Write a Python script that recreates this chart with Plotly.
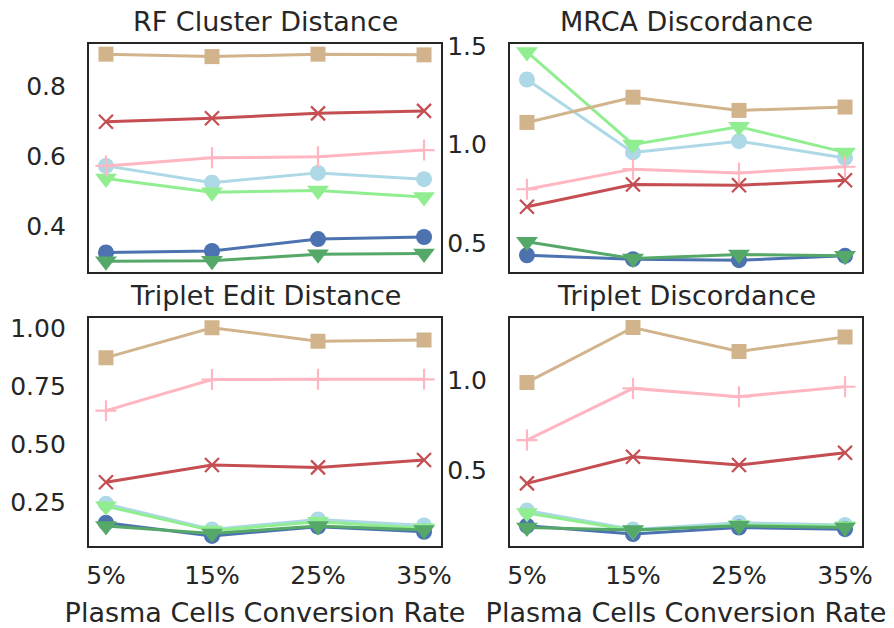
import plotly.graph_objects as go

rates = ["5%", "15%", "25%", "35%"]

series_names = ["light_blue", "blue", "light_green", "green", "red", "pink", "tan"]
series_colors = {
    "blue": "#4C72B0",
    "green": "#55A868",
    "red": "#C44E52",
    "tan": "#D2B48C",
    "pink": "#FFB6C1",
    "light_blue": "#ADD8E6",
    "light_green": "#90EE90",
}
series_symbols = {
    "blue": "circle",
    "green": "triangle-down",
    "red": "x-thin-open",
    "tan": "square",
    "pink": "cross-thin-open",
    "light_blue": "circle",
    "light_green": "triangle-down",
}
symbol_sizes = {
    "circle": 16,
    "triangle-down": 19,
    "square": 15,
    "x-thin-open": 14,
    "cross-thin-open": 15,
}

rf_cluster = {
    "tan": [0.891, 0.884, 0.891, 0.889],
    "red": [0.698, 0.708, 0.722, 0.729],
    "pink": [0.572, 0.595, 0.598, 0.617],
    "light_blue": [0.572, 0.524, 0.552, 0.534],
    "light_green": [0.536, 0.497, 0.502, 0.483],
    "blue": [0.325, 0.329, 0.363, 0.369],
    "green": [0.300, 0.301, 0.320, 0.322],
}
mrca = {
    "light_green": [1.47, 1.00, 1.09, 0.96],
    "light_blue": [1.33, 0.96, 1.017, 0.932],
    "tan": [1.112, 1.24, 1.173, 1.19],
    "pink": [0.773, 0.875, 0.856, 0.887],
    "red": [0.684, 0.797, 0.793, 0.819],
    "green": [0.506, 0.421, 0.442, 0.435],
    "blue": [0.438, 0.418, 0.413, 0.435],
}
triplet_edit = {
    "tan": [0.874, 1.003, 0.945, 0.950],
    "pink": [0.646, 0.780, 0.781, 0.781],
    "red": [0.338, 0.412, 0.402, 0.434],
    "light_blue": [0.245, 0.135, 0.178, 0.152],
    "light_green": [0.235, 0.130, 0.168, 0.140],
    "blue": [0.164, 0.107, 0.147, 0.125],
    "green": [0.150, 0.118, 0.150, 0.133],
}
triplet_disc = {
    "tan": [0.987, 1.290, 1.158, 1.237],
    "pink": [0.669, 0.954, 0.908, 0.963],
    "red": [0.430, 0.577, 0.531, 0.599],
    "light_blue": [0.280, 0.175, 0.213, 0.200],
    "light_green": [0.266, 0.170, 0.200, 0.193],
    "blue": [0.196, 0.150, 0.186, 0.177],
    "green": [0.186, 0.173, 0.196, 0.186],
}

panels = [
    ("RF Cluster Distance", rf_cluster, [0.269, 0.92], [0.4, 0.6, 0.8], ["0.4", "0.6", "0.8"]),
    ("MRCA Discordance", mrca, [0.353, 1.51], [0.5, 1.0, 1.5], ["0.5", "1.0", "1.5"]),
    ("Triplet Edit Distance", triplet_edit, [0.065, 1.046], [0.25, 0.5, 0.75, 1.0], ["0.25", "0.50", "0.75", "1.00"]),
    ("Triplet Discordance", triplet_disc, [0.086, 1.344], [0.5, 1.0], ["0.5", "1.0"]),
]

W, H = 894, 628
x_domains = [[89 / W, 441 / W], [510 / W, 862 / W]]
y_domains = [[(H - 272) / H, (H - 44) / H], [(H - 545.7) / H, (H - 317.7) / H]]

FONT = "DejaVu Sans"
TEXT = "#262626"

fig = go.Figure()
annotations = []
for i, (title, data, yr, tv, tt) in enumerate(panels):
    row, col = divmod(i, 2)
    n = i + 1
    xa = "x" if n == 1 else f"x{n}"
    ya = "y" if n == 1 else f"y{n}"
    for name in series_names:
        sym = series_symbols[name]
        thin = sym.endswith("open")
        fig.add_trace(go.Scatter(
            x=list(range(len(rates))), y=data[name], xaxis=xa, yaxis=ya,
            mode="lines+markers", showlegend=False,
            line=dict(color=series_colors[name], width=3),
            marker=dict(
                symbol=sym,
                size=symbol_sizes[sym],
                color=series_colors[name],
                line=dict(color=series_colors[name], width=2.2 if thin else 0),
            ),
        ))
    axis_common = dict(
        showline=True, mirror=True, linecolor=TEXT, linewidth=2.2,
        showgrid=False, zeroline=False, ticks="", automargin=False,
        tickfont=dict(family=FONT, size=25, color=TEXT),
    )
    fig.layout[f"xaxis{'' if n == 1 else n}"] = dict(
        axis_common, domain=x_domains[col], anchor=ya,
        range=[-0.16, 3.16], tickmode="array",
        tickvals=list(range(len(rates))),
        ticktext=rates if row == 1 else [""] * len(rates),
        showticklabels=(row == 1), ticklabelstandoff=6,
        title=dict(text="Plasma Cells Conversion Rate" if row == 1 else "",
                   font=dict(family=FONT, size=27, color=TEXT), standoff=14),
    )
    fig.layout[f"yaxis{'' if n == 1 else n}"] = dict(
        axis_common, domain=y_domains[row], anchor=xa,
        range=yr, tickmode="array", tickvals=tv, ticktext=tt,
        ticklabelstandoff=16,
    )
    annotations.append(dict(
        text=title, xref="paper", yref="paper",
        x=sum(x_domains[col]) / 2, y=y_domains[row][1],
        xanchor="center", yanchor="bottom", yshift=5, showarrow=False,
        font=dict(family=FONT, size=27, color=TEXT),
    ))

fig.update_layout(
    width=W, height=H, margin=dict(l=0, r=0, t=0, b=0),
    paper_bgcolor="white", plot_bgcolor="white",
    annotations=annotations,
)

fig.write_html("out.html")
